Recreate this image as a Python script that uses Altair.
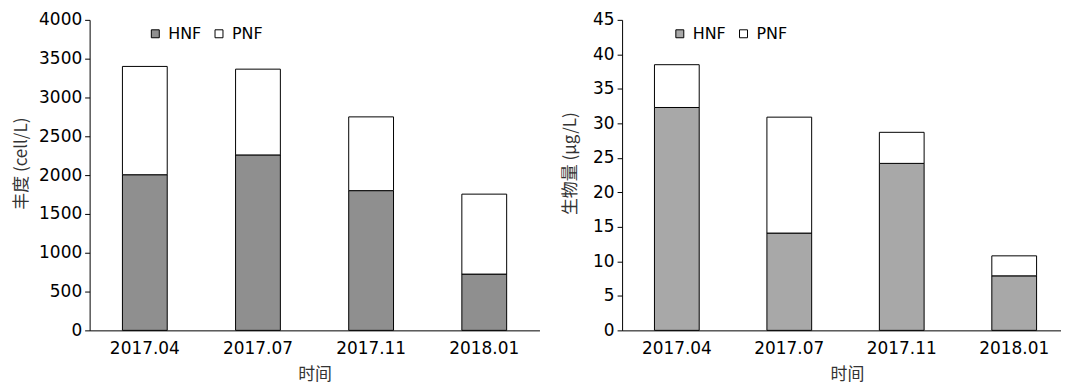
import altair as alt
import pandas as pd

months = ["2017.04", "2017.07", "2017.11", "2018.01"]
groups = ["HNF", "PNF"]
abund_hnf = [2005, 2260, 1800, 725]
abund_pnf = [1395, 1105, 950, 1030]
bio_hnf = [32.3, 14.1, 24.2, 7.9]
bio_pnf = [6.2, 16.8, 4.5, 2.9]
abund_ticks = [0, 500, 1000, 1500, 2000, 2500, 3000, 3500, 4000]
bio_ticks = [0, 5, 10, 15, 20, 25, 30, 35, 40, 45]

LAT = "DejaVu Sans"
CJK = "Noto Sans CJK SC"


def frame(h, p):
    rows = []
    for m, a, b in zip(months, h, p):
        rows.append({"month": m, "group": groups[0], "value": a, "ord": 0})
        rows.append({"month": m, "group": groups[1], "value": b, "ord": 1})
    return pd.DataFrame(rows)


def panel(df, ymax, ticks, ytitle, fill_hnf, width, ytitle_x, legend_x,
          pin, pout, align):
    return alt.Chart(df).mark_bar(stroke="black", strokeWidth=1).encode(
        x=alt.X("month:N", sort=months,
                scale=alt.Scale(paddingInner=pin, paddingOuter=pout, align=align),
                axis=alt.Axis(title="时间", labelAngle=0, ticks=False,
                              labelPadding=10, labelFont=LAT, labelFontSize=17,
                              labelColor="black", domainColor="black",
                              titleFont=CJK, titleFontSize=17,
                              titleFontWeight="normal", titleColor="#333",
                              titleX=226, titleY=36, titleBaseline="top")),
        y=alt.Y("value:Q", stack="zero",
                scale=alt.Scale(domain=[0, ymax], nice=False),
                axis=alt.Axis(title=ytitle, values=ticks, format="d", grid=False,
                              tickSize=5, tickColor="black", domainColor="black",
                              labelFont=LAT, labelFontSize=17, labelColor="black",
                              labelPadding=3,
                              titleFont=CJK, titleFontSize=17,
                              titleFontWeight="normal", titleColor="#333",
                              titleAngle=270, titleBaseline="bottom",
                              titleX=ytitle_x, titleY=144)),
        fill=alt.Fill("group:N", sort=groups,
                      scale=alt.Scale(domain=groups, range=[fill_hnf, "white"]),
                      legend=alt.Legend(title=None, orient="none",
                                        legendX=legend_x, legendY=6,
                                        direction="horizontal",
                                        symbolType="square", symbolSize=64,
                                        symbolStrokeColor="black",
                                        symbolStrokeWidth=1,
                                        labelFont=LAT, labelFontSize=16,
                                        labelColor="black", labelOffset=5,
                                        columnPadding=9)),
        order=alt.Order("ord:Q"),
    ).properties(width=width, height=312)


left = panel(frame(abund_hnf, abund_pnf), 4000, abund_ticks, "丰度 (cell/L)",
             "#8f8f8f", 452, -59, 58, 0.604, 0.29, 0.5)
right = panel(frame(bio_hnf, bio_pnf), 45, bio_ticks, "生物量 (μg/L)",
              "#a8a8a8", 441, -43, 50, 0.602, 0.2525, 0.57)

chart = alt.hconcat(left, right, spacing=22).resolve_scale(
    fill="independent").resolve_legend(fill="independent").properties(
    padding={"top": 2, "left": 5, "right": 0, "bottom": 6},
    background="white",
).configure_view(strokeWidth=0, stroke="transparent")

chart.save("out.html", embed_options={"renderer": "svg", "actions": False})
